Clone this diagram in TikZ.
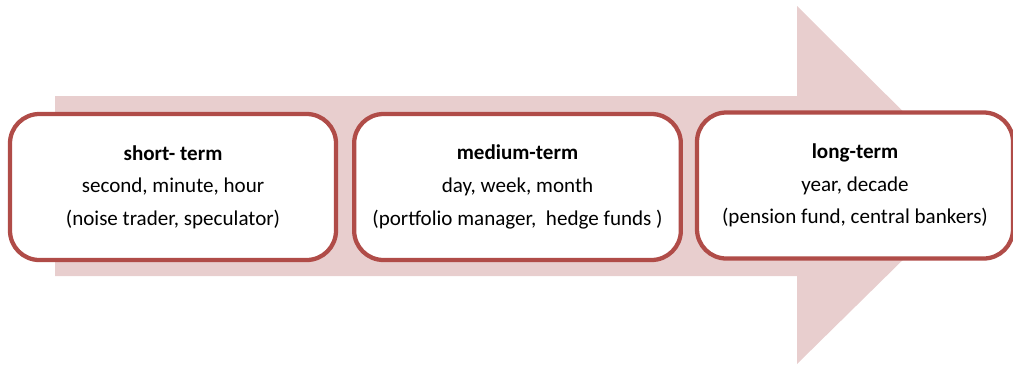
\documentclass[tikz,border=0pt]{standalone}
\usepackage{fontspec}
\setmainfont{Carlito}
\definecolor{arrowfill}{RGB}{232,206,206}
\definecolor{boxline}{RGB}{176,76,72}
\tikzset{
  horizon/.style={draw=boxline,line width=3.2pt,fill=white,rounded corners=22pt,
    minimum height=109.5pt,align=center,font=\fontsize{15.8}{24.5}\selectfont}
}
\begin{document}
\begin{tikzpicture}[x=0.75pt,y=-0.75pt]
\useasboundingbox (0,0) rectangle (1013,365);
\fill[arrowfill] (55,96) -- (797,96) -- (797,6) -- (978,186) -- (797,364) -- (797,276) -- (55,276) -- cycle;
\node[horizon,minimum width=244.5pt] (short) at (173,187) {\textbf{short- term}\\second, minute, hour\\(noise trader, speculator)};
\node[horizon,minimum width=245pt] (medium) at (517.5,187) {\textbf{medium-term}\\day, week, month\\(portfolio manager,\ \ hedge funds )};
\node[horizon,minimum width=237pt] (long) at (855,185.5) {\textbf{long-term}\\year, decade\\(pension fund, central bankers)};
\end{tikzpicture}
\end{document}
